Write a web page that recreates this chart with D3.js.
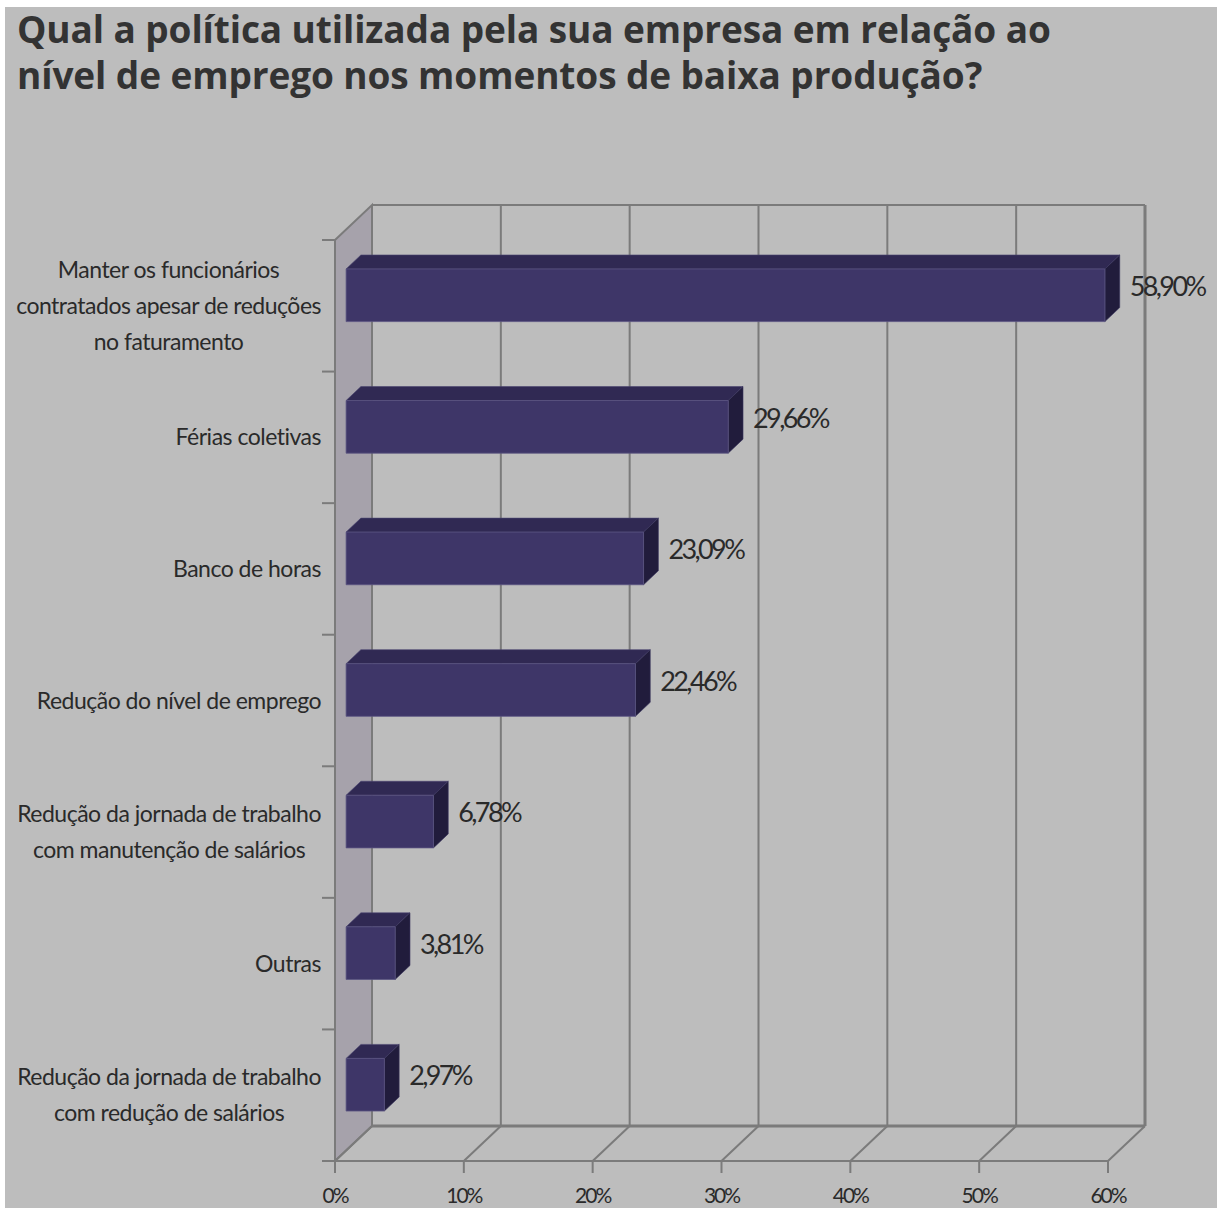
<!DOCTYPE html>
<html>
<head>
<meta charset="utf-8">
<script src="https://cdn.jsdelivr.net/npm/d3@7"></script>
<style>
  body { margin: 0; background: #ffffff; }
  svg { display: block; }
</style>
</head>
<body>
<script>
// chart data
const titleLines = [
  "Qual a política utilizada pela sua empresa em relação ao",
  "nível de emprego nos momentos de baixa produção?"
];
const categoryLines = [
  ["Manter os funcionários", "contratados apesar de reduções", "no faturamento"],
  ["Férias coletivas"],
  ["Banco de horas"],
  ["Redução do nível de emprego"],
  ["Redução da jornada de trabalho", "com manutenção de salários"],
  ["Outras"],
  ["Redução da jornada de trabalho", "com redução de salários"]
];
const categories = categoryLines.map(l => l.join(" "));
const values = [58.90, 29.66, 23.09, 22.46, 6.78, 3.81, 2.97];
const valueLabels = ["58,90%", "29,66%", "23,09%", "22,46%", "6,78%", "3,81%", "2,97%"];
const xTicks = [0, 10, 20, 30, 40, 50, 60];
const xTickLabels = ["0%", "10%", "20%", "30%", "40%", "50%", "60%"];

const width = 1217;
const height = 1208;

// plot geometry (front plane) and depth of the 3d box
const plot = { left: 335, right: 1108, top: 240, bottom: 1161 };
const depth = { dx: 37, dy: -35 };
const barZ0 = 0.3, barZ1 = 0.7;

const colors = {
  bg: "#bdbdbd",
  wall: "#a6a2ab",
  grid: "#7b7b7b",
  front: "#3e3668",
  top: "#302953",
  side: "#211c3c",
  text: "#2a2a2a",
  title: "#333333"
};

const svg = d3.select("body").append("svg")
    .attr("width", width)
    .attr("height", height);

// background with the white border seen at top/left
svg.append("rect")
    .attr("x", 5).attr("y", 7)
    .attr("width", width - 5).attr("height", height - 7)
    .attr("fill", colors.bg);

const xScale = d3.scaleLinear()
    .domain([0, 60])
    .range([plot.left, plot.right]);

const yScale = d3.scaleBand()
    .domain(categories)
    .range([plot.top, plot.bottom])
    .paddingInner(0.6)
    .paddingOuter(0.3);

// project a front-plane point to a given depth (0 = front, 1 = back)
const proj = (x, y, z) => [x + z * depth.dx, y + z * depth.dy];
const pts = arr => arr.map(p => p.join(",")).join(" ");

// left wall
svg.append("polygon")
    .attr("points", pts([
      proj(plot.left, plot.top, 0), proj(plot.left, plot.top, 1),
      proj(plot.left, plot.bottom, 1), proj(plot.left, plot.bottom, 0)
    ]))
    .attr("fill", colors.wall)
    .attr("stroke", colors.grid)
    .attr("stroke-width", 2);

const grid = svg.append("g")
    .attr("stroke", colors.grid)
    .attr("stroke-width", 2)
    .attr("fill", "none");

// back wall verticals
grid.selectAll("line.v")
  .data(xTicks)
  .enter().append("line")
    .attr("class", "v")
    .attr("x1", d => proj(xScale(d), plot.top, 1)[0])
    .attr("x2", d => proj(xScale(d), plot.bottom, 1)[0])
    .attr("y1", proj(0, plot.top, 1)[1])
    .attr("y2", proj(0, plot.bottom, 1)[1])
    .attr("stroke-width", (d, i) => i === xTicks.length - 1 ? 3 : 2);

// back wall top and bottom edges
[plot.top, plot.bottom].forEach(y => {
  const a = proj(xScale(0), y, 1), b = proj(xScale(60), y, 1);
  grid.append("line")
      .attr("x1", a[0]).attr("y1", a[1])
      .attr("x2", b[0]).attr("y2", b[1])
      .attr("stroke-width", y === plot.bottom ? 3 : 2);
});

// floor diagonals
grid.selectAll("line.d")
  .data(xTicks)
  .enter().append("line")
    .attr("class", "d")
    .attr("x1", d => xScale(d))
    .attr("y1", plot.bottom)
    .attr("x2", d => proj(xScale(d), plot.bottom, 1)[0])
    .attr("y2", proj(0, plot.bottom, 1)[1]);

// front floor edge
grid.append("line")
    .attr("x1", xScale(0)).attr("y1", plot.bottom)
    .attr("x2", xScale(60)).attr("y2", plot.bottom);

// x ticks
grid.selectAll("line.xt")
  .data(xTicks)
  .enter().append("line")
    .attr("x1", d => xScale(d)).attr("x2", d => xScale(d))
    .attr("y1", plot.bottom).attr("y2", plot.bottom + 12);

// y ticks at band boundaries
const step = yScale.step();
const yTickPos = d3.range(categories.length + 1).map(i => plot.top + i * step);
grid.selectAll("line.yt")
  .data(yTickPos)
  .enter().append("line")
    .attr("x1", plot.left - 13).attr("x2", plot.left)
    .attr("y1", d => d).attr("y2", d => d);

// left wall front edge
grid.append("line")
    .attr("x1", plot.left).attr("x2", plot.left)
    .attr("y1", plot.top).attr("y2", plot.bottom);

// bars
const bars = svg.append("g")
  .selectAll("g")
  .data(values)
  .enter().append("g");

bars.each(function (v, i) {
  const g = d3.select(this);
  const y0 = yScale(categories[i]);
  const y1 = y0 + yScale.bandwidth();
  const xa = xScale(0), xb = xScale(v);
  const f = [proj(xa, y0, barZ0), proj(xb, y0, barZ0), proj(xb, y1, barZ0), proj(xa, y1, barZ0)];
  const t = [proj(xa, y0, barZ0), proj(xa, y0, barZ1), proj(xb, y0, barZ1), proj(xb, y0, barZ0)];
  const s = [proj(xb, y0, barZ0), proj(xb, y0, barZ1), proj(xb, y1, barZ1), proj(xb, y1, barZ0)];
  g.append("polygon").attr("points", pts(t)).attr("fill", colors.top)
      .attr("stroke", "#4a4470").attr("stroke-width", 0.6);
  g.append("polygon").attr("points", pts(s)).attr("fill", colors.side)
      .attr("stroke", "#3a3560").attr("stroke-width", 0.6);
  g.append("polygon").attr("points", pts(f)).attr("fill", colors.front)
      .attr("stroke", "#5a5482").attr("stroke-width", 0.8);
});

// value labels
svg.append("g")
  .selectAll("text")
  .data(values)
  .enter().append("text")
    .attr("x", v => proj(xScale(v), 0, barZ1)[0] + 10)
    .attr("y", (v, i) => {
      const y0 = yScale(categories[i]);
      const top = proj(0, y0, barZ1)[1];
      const bot = proj(0, y0 + yScale.bandwidth(), barZ0)[1];
      return (top + bot) / 2 - 2;
    })
    .attr("dy", "0.36em")
    .attr("font-family", "Lato, 'Open Sans', sans-serif")
    .attr("font-size", 27)
    .attr("letter-spacing", -2.6)
    .attr("fill", colors.text)
    .text((v, i) => valueLabels[i]);

// category labels
const labelRight = 321;
const lineH = 36;
const catG = svg.append("g")
    .attr("font-family", "Lato, 'Open Sans', sans-serif")
    .attr("font-size", 23)
    .attr("letter-spacing", -0.5)
    .attr("fill", colors.text);

categoryLines.forEach((lines, i) => {
  const cy = yScale(categories[i]) + yScale.bandwidth() / 2;
  const g = catG.append("g");
  const texts = g.selectAll("text")
    .data(lines)
    .enter().append("text")
      .attr("text-anchor", "middle")
      .attr("y", (d, j) => cy + (j - (lines.length - 1) / 2) * lineH)
      .attr("dy", "0.35em")
      .text(d => d);
  let maxW = 0;
  texts.each(function () { maxW = Math.max(maxW, this.getComputedTextLength()); });
  texts.attr("x", labelRight - maxW / 2);
});

// x tick labels
svg.append("g")
  .selectAll("text")
  .data(xTicks)
  .enter().append("text")
    .attr("x", d => xScale(d))
    .attr("y", 1196)
    .attr("dy", "0.35em")
    .attr("text-anchor", "middle")
    .attr("font-family", "Lato, 'Open Sans', sans-serif")
    .attr("font-size", 21)
    .attr("letter-spacing", -2)
    .attr("fill", colors.text)
    .text((d, i) => xTickLabels[i]);

// title
svg.append("g")
  .selectAll("text")
  .data(titleLines)
  .enter().append("text")
    .attr("x", 17)
    .attr("y", (d, i) => 43 + i * 46)
    .attr("font-family", "'Open Sans', sans-serif")
    .attr("font-weight", "bold")
    .attr("font-size", 37)
    .attr("letter-spacing", -0.1)
    .attr("fill", colors.title)
    .text(d => d);
</script>
</body>
</html>
